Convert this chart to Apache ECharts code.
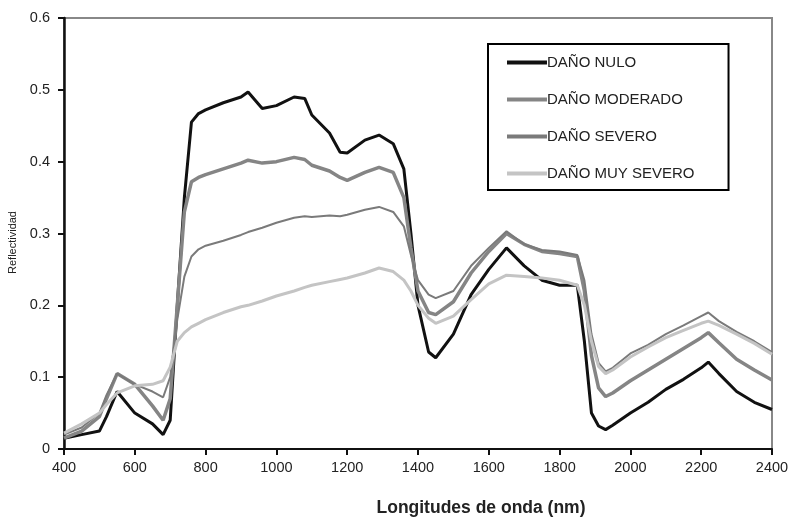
<!DOCTYPE html>
<html>
<head>
<meta charset="utf-8">
<script src="https://cdn.jsdelivr.net/npm/echarts@6/dist/echarts.min.js"></script>
<style>
  html, body { margin: 0; padding: 0; background: #fff; }
  #chart { width: 795px; height: 517px; }
</style>
</head>
<body>
<div id="chart"></div>
<script>
// longitudes de onda (nm)
const wavelengths = [400, 450, 500, 520, 550, 600, 650, 680, 700, 720, 740, 760, 780, 800, 850, 900, 920, 960, 1000, 1050, 1080, 1100, 1150, 1180, 1200, 1250, 1290, 1330, 1360, 1380, 1400, 1430, 1450, 1500, 1550, 1600, 1650, 1700, 1750, 1800, 1850, 1870, 1890, 1910, 1930, 1950, 2000, 2050, 2100, 2150, 2200, 2220, 2250, 2300, 2350, 2400];

const danoNulo = [0.015, 0.02, 0.025, 0.045, 0.08, 0.05, 0.035, 0.02, 0.04, 0.2, 0.35, 0.455, 0.467, 0.472, 0.482, 0.49, 0.497, 0.474, 0.478, 0.49, 0.488, 0.465, 0.44, 0.413, 0.412, 0.43, 0.437, 0.425, 0.39, 0.3, 0.2, 0.135, 0.127, 0.16, 0.215, 0.25, 0.28, 0.255, 0.235, 0.228, 0.228, 0.15, 0.05, 0.032, 0.027, 0.033, 0.05, 0.065, 0.083, 0.097, 0.113, 0.121, 0.105, 0.08, 0.065, 0.055];

const danoModerado = [0.015, 0.025, 0.045, 0.07, 0.105, 0.09, 0.06, 0.04, 0.07, 0.2, 0.33, 0.372, 0.378, 0.382, 0.39, 0.398, 0.402, 0.398, 0.4, 0.406, 0.403, 0.395, 0.387, 0.378, 0.374, 0.385, 0.392, 0.385, 0.35, 0.28, 0.22, 0.19, 0.187, 0.205, 0.245, 0.275, 0.3, 0.285, 0.275, 0.272, 0.268, 0.22, 0.13, 0.085, 0.073, 0.078, 0.095, 0.11, 0.125, 0.14, 0.155, 0.162, 0.148, 0.125, 0.11, 0.096];

const danoSevero = [0.02, 0.03, 0.05, 0.075, 0.105, 0.09, 0.08, 0.072, 0.1, 0.18, 0.24, 0.268, 0.278, 0.283, 0.29, 0.298, 0.302, 0.308, 0.315, 0.322, 0.324, 0.323, 0.325, 0.324, 0.326, 0.333, 0.337, 0.33, 0.31, 0.27, 0.235, 0.215, 0.21, 0.22, 0.255, 0.28, 0.303, 0.285, 0.277, 0.275, 0.27, 0.235, 0.16, 0.12, 0.108, 0.113, 0.133, 0.145, 0.16, 0.172, 0.185, 0.19, 0.178, 0.163, 0.15, 0.135];

const danoMuySevero = [0.022, 0.035, 0.05, 0.062, 0.078, 0.088, 0.09, 0.095, 0.114, 0.15, 0.162, 0.17, 0.175, 0.18, 0.19, 0.198, 0.2, 0.206, 0.213, 0.22, 0.225, 0.228, 0.233, 0.236, 0.238, 0.245, 0.252, 0.247, 0.235, 0.22, 0.2, 0.182, 0.175, 0.185, 0.208, 0.23, 0.242, 0.24, 0.238, 0.235, 0.228, 0.2, 0.15, 0.115, 0.105, 0.11, 0.128, 0.142, 0.155, 0.165, 0.175, 0.178, 0.172, 0.16, 0.147, 0.132];

const seriesNames = ['DAÑO NULO', 'DAÑO MODERADO', 'DAÑO SEVERO', 'DAÑO MUY SEVERO'];

const pairs = (vals) => wavelengths.map((w, i) => [w, vals[i]]);

const chart = echarts.init(document.getElementById('chart'));

const font = 'Liberation Sans, Arial, sans-serif';

const mkSeries = (name, vals, color, width) => ({
  name: name,
  type: 'line',
  data: pairs(vals),
  symbol: 'none',
  smooth: false,
  lineStyle: { color: color, width: width },
  itemStyle: { color: color }
});

let option = {
  animation: false,
  textStyle: { fontFamily: font },
  grid: {
    left: 64,
    right: 23,
    top: 18,
    bottom: 68,
    outerBoundsMode: 'none',
    show: true,
    borderColor: '#888',
    borderWidth: 2
  },
  legend: {
    orient: 'vertical',
    left: 488,
    top: 44,
    padding: [11, 34, 9, 19],
    borderColor: '#000',
    borderWidth: 2,
    icon: 'rect',
    itemWidth: 40,
    itemHeight: 4,
    itemGap: 22,
    textStyle: { fontSize: 15, color: '#222', fontFamily: font, padding: [0, 0, 0, -5] },
    data: seriesNames
  },
  xAxis: {
    type: 'value',
    min: 400,
    max: 2400,
    interval: 200,
    name: 'Longitudes de onda (nm)',
    nameLocation: 'middle',
    nameGap: 50,
    nameTextStyle: { fontSize: 17.5, fontWeight: 'bold', color: '#222', padding: [0, 0, 0, 126] },
    axisLine: { lineStyle: { color: '#111', width: 2 } },
    axisTick: { show: true, length: 6, inside: false, lineStyle: { color: '#111', width: 2 } },
    axisLabel: { fontSize: 14.5, color: '#222', margin: 11, formatter: (v) => String(v) },
    splitLine: { show: false }
  },
  yAxis: {
    type: 'value',
    min: 0,
    max: 0.6,
    interval: 0.1,
    name: 'Reflectividad',
    nameLocation: 'middle',
    nameGap: 46,
    nameTextStyle: { fontSize: 11, color: '#222', padding: [0, 0, 0, -18] },
    axisLine: { show: true, lineStyle: { color: '#111', width: 2.5 } },
    axisTick: { show: true, length: 6, inside: false, lineStyle: { color: '#111', width: 2 } },
    axisLabel: { fontSize: 14.5, color: '#222', margin: 14, formatter: (v) => String(v) },
    splitLine: { show: false }
  },
  series: [
    mkSeries(seriesNames[0], danoNulo, '#111', 3),
    mkSeries(seriesNames[1], danoModerado, '#858585', 3.5),
    mkSeries(seriesNames[2], danoSevero, '#7a7a7a', 2),
    mkSeries(seriesNames[3], danoMuySevero, '#c4c4c4', 3)
  ]
};

chart.setOption(option);
</script>
</body>
</html>
